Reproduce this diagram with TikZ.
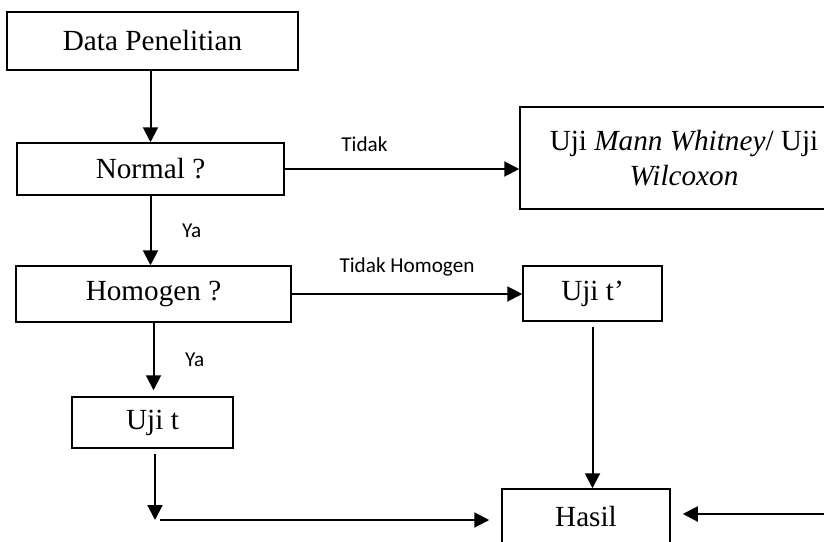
\documentclass[tikz,border=0pt]{standalone}
\usepackage{fontspec}
\setmainfont{Liberation Serif}
\newfontfamily\labfont{Carlito}
\usetikzlibrary{arrows.meta}

\begin{document}
\begin{tikzpicture}[x=0.5pt,y=-0.5pt,
  box/.style={draw,line width=0.75pt,inner sep=0pt,align=center,font=\fontsize{14.6}{17.5}\selectfont},
  arr/.style={line width=1pt,-{Triangle[length=7.5pt,width=7.5pt]}},
  lab/.style={font=\labfont\fontsize{10.6}{12}\selectfont}]
\clip (0,0) rectangle (824,541);
% boxes
\node[box,minimum width=145.5pt,minimum height=29pt] (data) at (152.5,41) {Data Penelitian};
\node[box,minimum width=133.5pt,minimum height=26pt] (normal) at (150.5,169) {Normal ?};
\node[box,minimum width=164pt,minimum height=51pt] (mw) at (684,158) {Uji \textit{Mann Whitney}/ Uji\\\textit{Wilcoxon}};
\node[box,minimum width=137.5pt,minimum height=28pt] (homogen) at (153.5,294) {Homogen ?};
\node[box,minimum width=69.5pt,minimum height=27.5pt] (ujitt) at (592.5,293.5) {Uji t’};
\node[box,minimum width=80.5pt,minimum height=25.5pt] (ujit) at (152.5,422.5) {Uji t};
\node[box,minimum width=84pt,minimum height=28pt] (hasil) at (586,517) {Hasil};
\coordinate (bend) at (155,520);
\coordinate (edge) at (826,514);
% arrows
\draw[arr] (data.south -| normal.north) -- (normal.north);
\draw[arr] (normal.east) -- (normal.east -| mw.west) node[lab,pos=0.34,above=5pt] {Tidak};
\draw[arr] (normal.south) -- (normal.south |- homogen.north) node[lab,midway,right=12pt] {Ya};
\draw[arr] (homogen.east) -- (homogen.east -| ujitt.west) node[lab,midway,above=5pt] {Tidak Homogen};
\draw[arr,shorten >=3pt] (homogen.south) -- (homogen.south |- ujit.north) node[lab,midway,right=12pt] {Ya};
\draw[arr,shorten <=2.5pt] (ujitt.south) -- (ujitt.south |- hasil.north);
\draw[arr,shorten <=2.5pt] (ujit.south -| bend) -- (bend);
\draw[arr,shorten >=6pt] ([xshift=2.5pt]bend) -- (bend -| hasil.west);
\draw[arr,shorten >=6pt] (edge) -- (edge -| hasil.east);
\end{tikzpicture}
\end{document}
